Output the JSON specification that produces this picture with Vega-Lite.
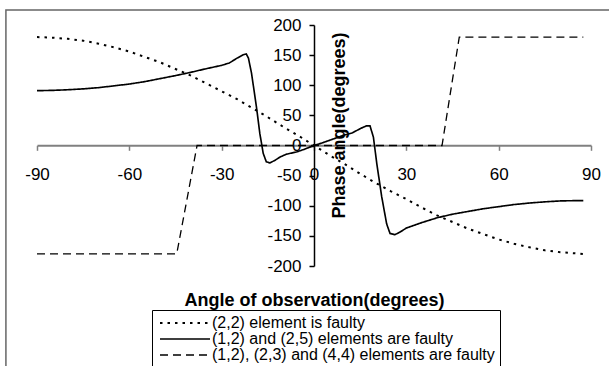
{
  "$schema": "https://vega.github.io/schema/vega-lite/v6.json",
  "width": 554,
  "height": 241,
  "autosize": {"type": "none"},
  "padding": {"left": 37, "top": 25, "right": 18, "bottom": 100},
  "background": "white",
  "config": {
    "view": {"stroke": null},
    "font": "Liberation Sans",
    "axis": {"labelFont": "Liberation Sans", "labelFontSize": 17, "labelColor": "black", "titleFont": "Liberation Sans", "titleFontSize": 18, "titleFontWeight": "bold", "titleColor": "black", "grid": false},
    "legend": {"labelFont": "Liberation Sans", "labelFontSize": 16, "labelColor": "black", "labelLimit": 0}
  },
  "resolve": {"axis": {"x": "independent", "y": "independent"}},
  "layer": [
    {
      "data": {"values": [{}]},
      "mark": {"type": "rect", "fill": null, "stroke": "#666666", "strokeWidth": 1.5, "clip": false},
      "encoding": {
        "x": {"datum": -100.1, "type": "quantitative", "axis": null},
        "x2": {"datum": 101},
        "y": {"datum": 224.9, "type": "quantitative", "axis": null},
        "y2": {"datum": -420}
      }
    },
    {
      "data": {"values": [
        {"x": -90, "y": 180, "s": "(2,2) element is faulty"},
        {"x": -85, "y": 179, "s": "(2,2) element is faulty"},
        {"x": -80, "y": 177, "s": "(2,2) element is faulty"},
        {"x": -75, "y": 174, "s": "(2,2) element is faulty"},
        {"x": -70, "y": 169, "s": "(2,2) element is faulty"},
        {"x": -65, "y": 163, "s": "(2,2) element is faulty"},
        {"x": -60, "y": 156, "s": "(2,2) element is faulty"},
        {"x": -55, "y": 147, "s": "(2,2) element is faulty"},
        {"x": -50, "y": 138, "s": "(2,2) element is faulty"},
        {"x": -45, "y": 127, "s": "(2,2) element is faulty"},
        {"x": -40, "y": 116, "s": "(2,2) element is faulty"},
        {"x": -35, "y": 103, "s": "(2,2) element is faulty"},
        {"x": -30, "y": 90, "s": "(2,2) element is faulty"},
        {"x": -25, "y": 77, "s": "(2,2) element is faulty"},
        {"x": -20, "y": 62, "s": "(2,2) element is faulty"},
        {"x": -15, "y": 47, "s": "(2,2) element is faulty"},
        {"x": -10, "y": 31, "s": "(2,2) element is faulty"},
        {"x": -5, "y": 16, "s": "(2,2) element is faulty"},
        {"x": 0, "y": 0, "s": "(2,2) element is faulty"},
        {"x": 5, "y": -16, "s": "(2,2) element is faulty"},
        {"x": 10, "y": -31, "s": "(2,2) element is faulty"},
        {"x": 15, "y": -47, "s": "(2,2) element is faulty"},
        {"x": 20, "y": -62, "s": "(2,2) element is faulty"},
        {"x": 25, "y": -76, "s": "(2,2) element is faulty"},
        {"x": 30, "y": -89, "s": "(2,2) element is faulty"},
        {"x": 35, "y": -103, "s": "(2,2) element is faulty"},
        {"x": 40, "y": -116, "s": "(2,2) element is faulty"},
        {"x": 45, "y": -127, "s": "(2,2) element is faulty"},
        {"x": 50, "y": -138, "s": "(2,2) element is faulty"},
        {"x": 55, "y": -147, "s": "(2,2) element is faulty"},
        {"x": 60, "y": -156, "s": "(2,2) element is faulty"},
        {"x": 65, "y": -163, "s": "(2,2) element is faulty"},
        {"x": 70, "y": -169, "s": "(2,2) element is faulty"},
        {"x": 75, "y": -174, "s": "(2,2) element is faulty"},
        {"x": 80, "y": -177, "s": "(2,2) element is faulty"},
        {"x": 85, "y": -179, "s": "(2,2) element is faulty"},
        {"x": 87.5, "y": -180, "s": "(2,2) element is faulty"},

        {"x": -90, "y": 91, "s": "(1,2) and (2,5) elements are faulty"},
        {"x": -85, "y": 91.5, "s": "(1,2) and (2,5) elements are faulty"},
        {"x": -80, "y": 92.5, "s": "(1,2) and (2,5) elements are faulty"},
        {"x": -75, "y": 94, "s": "(1,2) and (2,5) elements are faulty"},
        {"x": -70, "y": 96, "s": "(1,2) and (2,5) elements are faulty"},
        {"x": -65, "y": 99, "s": "(1,2) and (2,5) elements are faulty"},
        {"x": -60, "y": 102, "s": "(1,2) and (2,5) elements are faulty"},
        {"x": -55, "y": 106, "s": "(1,2) and (2,5) elements are faulty"},
        {"x": -50, "y": 111, "s": "(1,2) and (2,5) elements are faulty"},
        {"x": -45, "y": 116, "s": "(1,2) and (2,5) elements are faulty"},
        {"x": -40, "y": 121.5, "s": "(1,2) and (2,5) elements are faulty"},
        {"x": -35, "y": 127.5, "s": "(1,2) and (2,5) elements are faulty"},
        {"x": -30, "y": 133, "s": "(1,2) and (2,5) elements are faulty"},
        {"x": -27.5, "y": 137, "s": "(1,2) and (2,5) elements are faulty"},
        {"x": -25, "y": 145, "s": "(1,2) and (2,5) elements are faulty"},
        {"x": -23, "y": 150.5, "s": "(1,2) and (2,5) elements are faulty"},
        {"x": -22, "y": 152, "s": "(1,2) and (2,5) elements are faulty"},
        {"x": -21.3, "y": 145, "s": "(1,2) and (2,5) elements are faulty"},
        {"x": -20.3, "y": 120, "s": "(1,2) and (2,5) elements are faulty"},
        {"x": -18.7, "y": 64, "s": "(1,2) and (2,5) elements are faulty"},
        {"x": -17.6, "y": 20, "s": "(1,2) and (2,5) elements are faulty"},
        {"x": -16.5, "y": -13, "s": "(1,2) and (2,5) elements are faulty"},
        {"x": -15.5, "y": -27, "s": "(1,2) and (2,5) elements are faulty"},
        {"x": -14.3, "y": -29, "s": "(1,2) and (2,5) elements are faulty"},
        {"x": -12.5, "y": -24, "s": "(1,2) and (2,5) elements are faulty"},
        {"x": -11, "y": -19, "s": "(1,2) and (2,5) elements are faulty"},
        {"x": -9, "y": -14.5, "s": "(1,2) and (2,5) elements are faulty"},
        {"x": -5.5, "y": -10.5, "s": "(1,2) and (2,5) elements are faulty"},
        {"x": -3, "y": -6, "s": "(1,2) and (2,5) elements are faulty"},
        {"x": 0, "y": 0, "s": "(1,2) and (2,5) elements are faulty"},
        {"x": 2.5, "y": 4, "s": "(1,2) and (2,5) elements are faulty"},
        {"x": 5, "y": 8.5, "s": "(1,2) and (2,5) elements are faulty"},
        {"x": 7.5, "y": 13, "s": "(1,2) and (2,5) elements are faulty"},
        {"x": 9.5, "y": 17, "s": "(1,2) and (2,5) elements are faulty"},
        {"x": 12.5, "y": 21, "s": "(1,2) and (2,5) elements are faulty"},
        {"x": 15, "y": 28, "s": "(1,2) and (2,5) elements are faulty"},
        {"x": 17, "y": 32.5, "s": "(1,2) and (2,5) elements are faulty"},
        {"x": 18.2, "y": 32.5, "s": "(1,2) and (2,5) elements are faulty"},
        {"x": 19.3, "y": 14, "s": "(1,2) and (2,5) elements are faulty"},
        {"x": 20.4, "y": -30, "s": "(1,2) and (2,5) elements are faulty"},
        {"x": 22, "y": -85, "s": "(1,2) and (2,5) elements are faulty"},
        {"x": 23.6, "y": -130, "s": "(1,2) and (2,5) elements are faulty"},
        {"x": 24.7, "y": -146, "s": "(1,2) and (2,5) elements are faulty"},
        {"x": 26.3, "y": -148, "s": "(1,2) and (2,5) elements are faulty"},
        {"x": 28, "y": -143.5, "s": "(1,2) and (2,5) elements are faulty"},
        {"x": 30, "y": -137, "s": "(1,2) and (2,5) elements are faulty"},
        {"x": 35, "y": -128, "s": "(1,2) and (2,5) elements are faulty"},
        {"x": 40, "y": -120, "s": "(1,2) and (2,5) elements are faulty"},
        {"x": 45, "y": -114, "s": "(1,2) and (2,5) elements are faulty"},
        {"x": 50, "y": -109.5, "s": "(1,2) and (2,5) elements are faulty"},
        {"x": 55, "y": -105, "s": "(1,2) and (2,5) elements are faulty"},
        {"x": 60, "y": -101.5, "s": "(1,2) and (2,5) elements are faulty"},
        {"x": 65, "y": -98, "s": "(1,2) and (2,5) elements are faulty"},
        {"x": 70, "y": -95.5, "s": "(1,2) and (2,5) elements are faulty"},
        {"x": 75, "y": -93.5, "s": "(1,2) and (2,5) elements are faulty"},
        {"x": 80, "y": -92, "s": "(1,2) and (2,5) elements are faulty"},
        {"x": 85, "y": -91.5, "s": "(1,2) and (2,5) elements are faulty"},
        {"x": 87.5, "y": -91.5, "s": "(1,2) and (2,5) elements are faulty"},

        {"x": -90, "y": -180, "s": "(1,2), (2,3) and (4,4) elements are faulty"},
        {"x": -44.6, "y": -180, "s": "(1,2), (2,3) and (4,4) elements are faulty"},
        {"x": -38, "y": 0, "s": "(1,2), (2,3) and (4,4) elements are faulty"},
        {"x": 41.6, "y": 0, "s": "(1,2), (2,3) and (4,4) elements are faulty"},
        {"x": 47.2, "y": 180, "s": "(1,2), (2,3) and (4,4) elements are faulty"},
        {"x": 87.5, "y": 180, "s": "(1,2), (2,3) and (4,4) elements are faulty"}
      ]},
      "mark": {"type": "line", "color": "black", "clip": false},
      "encoding": {
        "x": {
          "field": "x", "type": "quantitative",
          "scale": {"domain": [-90, 90], "nice": false, "zero": false},
          "axis": {
            "orient": "bottom", "offset": -120.7,
            "values": [-90, -60, -30, 0, 30, 60, 90],
            "labelExpr": "replace(datum.label, '\u2212', '-')",
            "domainColor": "#808080", "domainWidth": 2,
            "tickColor": "#808080", "tickWidth": 1.5, "tickSize": 5,
            "labelPadding": 16, "labelFlush": false, "labelOverlap": false,
            "title": "Angle of observation(degrees)",
            "titleY": 155, "titleBaseline": "middle"
          }
        },
        "y": {
          "field": "y", "type": "quantitative",
          "scale": {"domain": [-200, 200], "nice": false, "zero": false},
          "axis": {
            "orient": "left", "offset": -277,
            "values": [-200, -150, -100, -50, 0, 50, 100, 150, 200],
            "labelExpr": "replace(datum.label, '\u2212', '-')",
            "domainColor": "black", "domainWidth": 1.5,
            "tickColor": "black", "tickWidth": 1.5, "tickSize": 5,
            "labelPadding": 8, "labelOverlap": false, "labelFlush": false,
            "title": "Phase angle(degrees)",
            "titleX": 25, "titleY": 100, "titleAngle": -90,
            "titleAlign": "center", "titleBaseline": "middle"
          }
        },
        "strokeDash": {
          "field": "s", "type": "nominal",
          "scale": {
            "domain": ["(2,2) element is faulty", "(1,2) and (2,5) elements are faulty", "(1,2), (2,3) and (4,4) elements are faulty"],
            "range": [[2.5, 5], [1, 0], [8, 5]]
          },
          "legend": {
            "title": null, "orient": "none", "legendX": 115, "legendY": 285,
            "padding": 5, "strokeColor": "black", "fillColor": "white",
            "symbolType": "M-5,0H5", "symbolSize": 100, "symbolStrokeColor": "black",
            "symbolOffset": 20, "labelOffset": 19, "rowPadding": -2, "labelLimit": 0
          }
        },
        "strokeWidth": {
          "field": "s", "type": "nominal",
          "scale": {
            "domain": ["(2,2) element is faulty", "(1,2) and (2,5) elements are faulty", "(1,2), (2,3) and (4,4) elements are faulty"],
            "range": [2, 1.3, 2.6]
          },
          "legend": {
            "title": null, "orient": "none", "legendX": 115, "legendY": 285,
            "padding": 5, "strokeColor": "black", "fillColor": "white",
            "symbolType": "M-5,0H5", "symbolSize": 100, "symbolStrokeColor": "black",
            "symbolOffset": 20, "labelOffset": 19, "rowPadding": -2, "labelLimit": 0
          }
        }
      }
    }
  ]
}
